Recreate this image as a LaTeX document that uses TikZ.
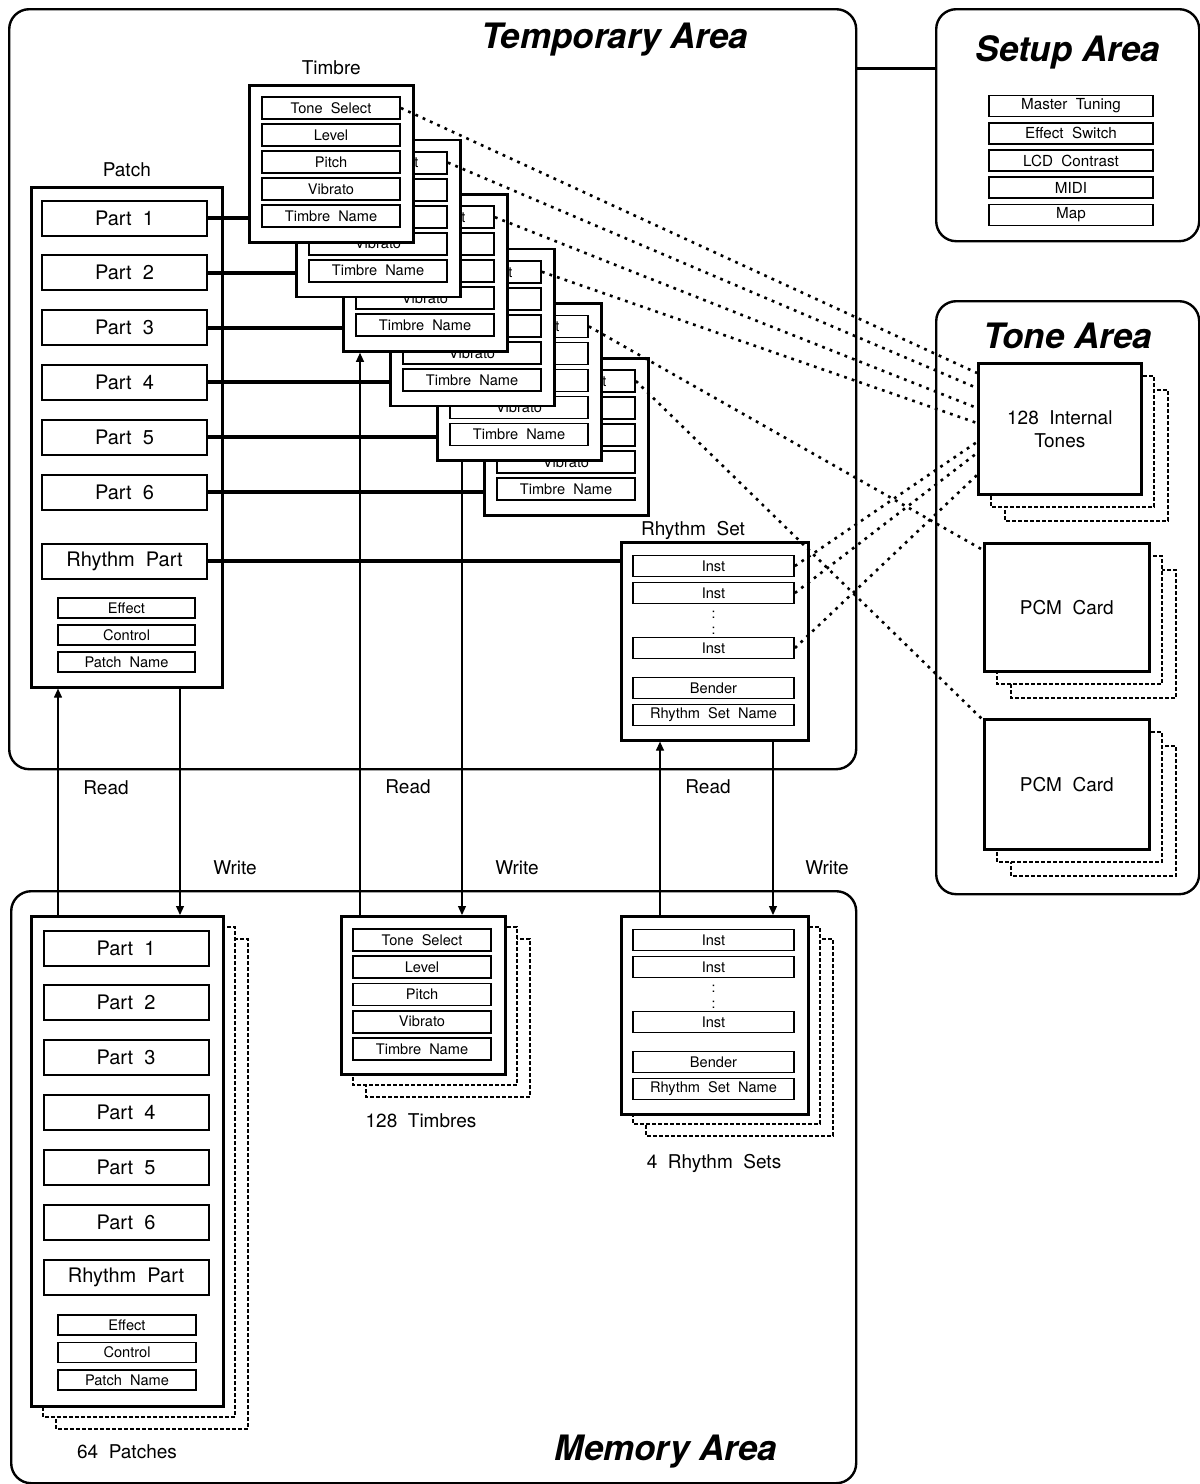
\documentclass[tikz,border=0pt]{standalone}
\usepackage{fontspec}
\setmainfont{TeX Gyre Heros}
\usetikzlibrary{arrows.meta,positioning}

\tikzset{
  area/.style={draw,line width=1.2pt,rounded corners=10pt,anchor=north west,inner sep=0pt},
  box/.style={draw,line width=1.3pt,fill=white,anchor=north west,inner sep=0pt},
  field/.style={draw,line width=0.9pt,fill=white,inner sep=0pt,font=\fontsize{7.3}{8}\selectfont},
  partbox/.style={draw,line width=1pt,fill=white,inner sep=0pt,minimum width=82.5pt,minimum height=17.5pt,font=\fontsize{10}{12}\selectfont},
  ghost/.style={draw,line width=0.8pt,dash pattern=on 1.8pt off 1.2pt,fill=white},
  tonelink/.style={line width=1.3pt,dash pattern=on 1.4pt off 2.6pt},
  partlink/.style={line width=2pt},
  rw/.style={line width=0.6pt,-{Triangle[length=4.5pt,width=4pt]}},
  areatitle/.style={font=\fontsize{17.5}{20}\selectfont\bfseries\itshape},
  lbl/.style={font=\fontsize{9.5}{11.5}\selectfont},
}

\begin{document}
\begin{tikzpicture}[x=0.5pt,y=-0.5pt]
\useasboundingbox (0,0) rectangle (1200,1484);

% areas
\node[area,minimum width=423.5pt,minimum height=380pt] (temp) at (8,8) {};
\node[area,minimum width=131.5pt,minimum height=116pt] (setup) at (935,8) {};
\node[area,minimum width=131.5pt,minimum height=296.5pt] (tone) at (935,300) {};
\node[area,minimum width=422.5pt,minimum height=296pt] (mem) at (10,890) {};
\node[areatitle] at (615,40) {Temporary Area};
\node[areatitle] at (1068,52) {Setup Area};
\node[areatitle] at (1068,336) {Tone Area};
\node[areatitle] at (666,1452) {Memory Area};
\coordinate (lk) at (0,68);
\draw[line width=1.5pt] (temp.east |- lk) -- (setup.west |- lk);

% setup area
\foreach \t [count=\i] in {Master~~Tuning,Effect~~Switch,LCD~~Contrast,MIDI,Map}
  \node[field,font=\fontsize{7.6}{8}\selectfont,minimum width=82pt,minimum height=10.5pt] (su\i) at (1071,{106+27.25*(\i-1)}) {\t};

% tone area
\foreach \d in {2,1}
  \draw[ghost,shift={(14*\d,14*\d)}] (977,362) rectangle +(163,131)
    (983,542) rectangle +(165,128) (983,718) rectangle +(165,130);
\node[box,lbl,align=center,minimum width=81.5pt,minimum height=65.5pt] (itones) at (977,362) {128~~Internal\\Tones};
\node[box,lbl,minimum width=82.5pt,minimum height=64pt] (pcm1) at (983,542) {PCM~~Card};
\node[box,lbl,minimum width=82.5pt,minimum height=65pt] (pcm2) at (983,718) {PCM~~Card};

% patch in temporary area
\node[box,minimum width=95.5pt,minimum height=250pt] (tpatch) at (30,186) {};
\node[lbl,above=1pt of tpatch] {Patch};
\foreach \i in {1,...,6}
  \node[partbox] (tp\i) at (124.5,{218+54.8*(\i-1)}) {Part~~\i};
\node[partbox] (tprh) at (124.5,561) {Rhythm~~Part};
\foreach \t [count=\i] in {Effect,Control,Patch~~Name}
  \node[field,minimum width=68.5pt,minimum height=10pt] (tpx\i) at (126.5,{608+27*(\i-1)}) {\t};

% timbres
\foreach \k in {6,5,...,1}{
  \pgfmathsetmacro\cx{248+47*(\k-1)}
  \pgfmathsetmacro\cy{84+54.6*(\k-1)}
  \node[box,minimum width=82pt,minimum height=78.5pt] (tc\k) at (\cx,\cy) {};
  \foreach \t [count=\j] in {Tone~~Select,Level,Pitch,Vibrato,Timbre~~Name}
    \node[field,minimum width=69pt,minimum height=11pt] (tc\k-\j) at (\cx+83,{\cy+24+27*(\j-1)}) {\t};
}
\node[lbl,above=1pt of tc1] {Timbre};
\foreach \i in {1,...,6}
  \draw[partlink] (tp\i.east) -- (tp\i.east -| tc\i.west);

% memory shadows
\foreach \d in {2,1}
  \draw[ghost,shift={(13*\d,12*\d)}] (30,915) rectangle +(192,490)
    (340,915) rectangle +(164,158) (620,915) rectangle +(187,197);

% rhythm sets
\node[lbl] at (693,530) {Rhythm~~Set};
\foreach \p/\y in {t/541,m/915}{
  \node[box,minimum width=93.5pt,minimum height=99pt] (rs\p) at (620,\y) {};
  \foreach \i/\o in {1/25,2/52,3/107}
    \node[field,minimum width=80.5pt,minimum height=10.5pt] (inst\p\i) at (713.5,\y+\o) {Inst};
  \node[font=\fontsize{7}{8}\selectfont] at (713.5,\y+74) {:};
  \node[font=\fontsize{7}{8}\selectfont] at (713.5,\y+90) {:};
  \node[field,minimum width=80.5pt,minimum height=10.5pt] (bend\p) at (713.5,\y+147) {Bender};
  \node[field,minimum width=80.5pt,minimum height=10.5pt] (rsn\p) at (713.5,\y+174) {Rhythm~~Set~~Name};
}
\draw[partlink] (tprh.east) -- (tprh.east -| rst.west);
\node[lbl] at (714,1163) {4~~Rhythm~~Sets};

% patches in memory area
\node[box,minimum width=96pt,minimum height=245pt] (mpatch) at (30,915) {};
\foreach \i in {1,...,6}
  \node[partbox] (mp\i) at (126,{948+54.8*(\i-1)}) {Part~~\i};
\node[partbox] (mprh) at (126,1277) {Rhythm~~Part};
\foreach \t [count=\i] in {Effect,Control,Patch~~Name}
  \node[field,minimum width=69pt,minimum height=10pt] (mpx\i) at (127,{1325+27.5*(\i-1)}) {\t};
\node[lbl] at (127,1452) {64~~Patches};

% timbres in memory area
\node[box,minimum width=82pt,minimum height=79pt] (mtim) at (340,915) {};
\foreach \t [count=\j] in {Tone~~Select,Level,Pitch,Vibrato,Timbre~~Name}
  \node[field,minimum width=69pt,minimum height=11pt] (mt\j) at (422,{940+27.2*(\j-1)}) {\t};
\node[lbl] at (421,1121) {128~~Timbres};

% read and write
\draw[rw] ([shift={(28,0)}]mpatch.north west) -- ([shift={(28,0)}]tpatch.south west);
\draw[rw] ([shift={(150,0)}]tpatch.south west) -- ([shift={(150,0)}]mpatch.north west);
\coordinate (rd2) at ([shift={(20,0)}]mtim.north west);
\coordinate (wr2) at ([shift={(122,0)}]mtim.north west);
\draw[rw] (rd2) -- (rd2 |- tc3.south);
\draw[rw] (wr2 |- tc5.south) -- (wr2);
\draw[rw] ([shift={(40,0)}]rsm.north west) -- ([shift={(40,0)}]rst.south west);
\draw[rw] ([shift={(153,0)}]rst.south west) -- ([shift={(153,0)}]rsm.north west);
\node[lbl] (r1) at (106,788) {Read};
\node[lbl] (w1) at (235,868) {Write};
\node[lbl] (r2) at (408,787) {Read};
\node[lbl] (w2) at (517,868) {Write};
\node[lbl] (r3) at (708,787) {Read};
\node[lbl] (w3) at (827,868) {Write};

% tone select links
\foreach \k/\o in {1/11,2/26,3/46,4/61}
  \draw[tonelink] (tc\k-1.east) -- ([shift={(0,\o)}]itones.north west);
\draw[tonelink] (tc5-1.east) -- ([shift={(0,8)}]pcm1.north west);
\draw[tonelink] (tc6-1.east) -- ([shift={(0,2)}]pcm2.north west);
\foreach \i/\o in {1/80,2/91,3/113}
  \draw[tonelink] (instt\i.east) -- ([shift={(0,\o)}]itones.north west);
\end{tikzpicture}
\end{document}
